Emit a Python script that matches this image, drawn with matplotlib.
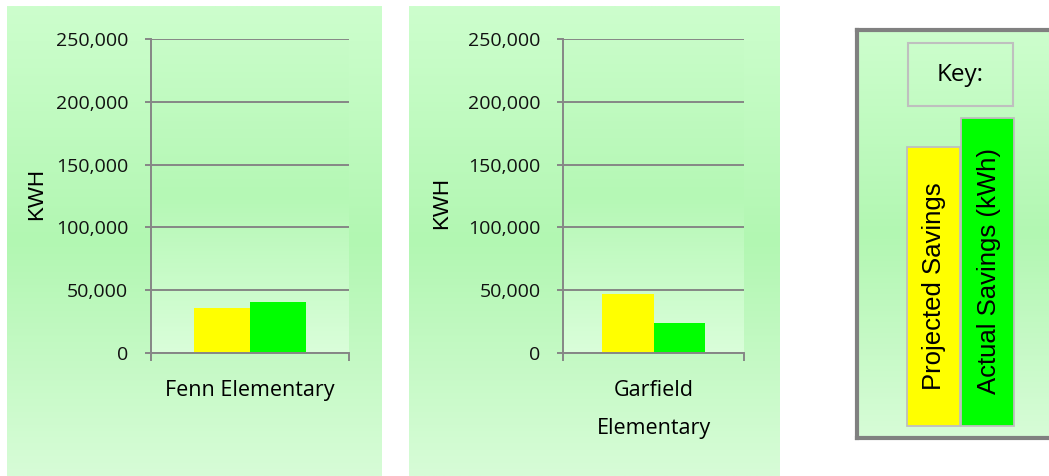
import numpy as np
import matplotlib.pyplot as plt
from matplotlib.colors import LinearSegmentedColormap
from matplotlib.patches import Rectangle

# data
schools = ["Fenn Elementary", "Garfield\nElementary"]
projected = [36000, 47000]
actual = [40700, 24000]
yticks = [0, 50000, 100000, 150000, 200000, 250000]
series = ["Projected Savings\n(kWh)", "Actual Savings (kWh)"]
colors = ["#FFFF00", "#00FF00"]

W, H = 1049, 476
fig = plt.figure(figsize=(W / 100, H / 100), dpi=100)
fig.patch.set_facecolor("white")


def px(x0, y0, x1, y1):
    # pixel box (top-left origin) -> figure fraction rect
    return [x0 / W, 1 - y1 / H, (x1 - x0) / W, (y1 - y0) / H]


grad = np.linspace(0, 1, 256).reshape(-1, 1)
bg_cmap = LinearSegmentedColormap.from_list("bg", ["#D7FCD7", "#B2F7B2", "#CDFECD"])
pa_cmap = LinearSegmentedColormap.from_list("pa", ["#DAFEDA", "#B5F8B5", "#C8FCC8"])

grey = "#868686"
calib = ["Open Sans", "DejaVu Sans"]
arial = ["Liberation Sans", "DejaVu Sans"]

panels = [(7, 6, 382, 476), (409, 6, 780, 476)]
plots = [(151, 38.7, 349, 353.3), (563.3, 38.7, 744, 353.3)]
kwh_pos = [(37, 194), (442, 203)]
width = 0.285

for i in range(2):
    # chart area backdrop
    b = fig.add_axes(px(*panels[i]), zorder=0)
    b.imshow(grad, cmap=bg_cmap, aspect="auto", origin="lower", extent=(0, 1, 0, 1))
    b.set_axis_off()

    ax = fig.add_axes(px(*plots[i]), zorder=1)
    ax.patch.set_alpha(0)
    ax.imshow(grad, cmap=pa_cmap, aspect="auto", origin="lower",
              extent=(-0.5, 0.5, 0, 250000), zorder=0)
    ax.bar(-width / 2, projected[i], width, color=colors[0], zorder=2)
    ax.bar(width / 2, actual[i], width, color=colors[1], zorder=2)
    ax.set_xlim(-0.5, 0.5)
    ax.set_ylim(0, 250000)

    ax.set_yticks(yticks, [f"{v:,}" for v in yticks], family=calib, fontsize=14)
    ax.yaxis.grid(True, color=grey, linewidth=1.4)
    ax.set_axisbelow(True)
    ax.tick_params(axis="y", direction="out", length=4.5, width=1.4, color=grey,
                   pad=12, labelcolor="#111111")

    ax.set_xticks([0], [schools[i]], family=calib, fontsize=15.5, linespacing=2.1)
    ax.set_xticks([-0.5, 0.5], minor=True)
    ax.tick_params(axis="x", which="major", length=0, pad=19)
    ax.tick_params(axis="x", which="minor", direction="out", length=5.5,
                   width=1.4, color=grey)

    for s in ["top", "right"]:
        ax.spines[s].set_visible(False)
    for s in ["left", "bottom"]:
        ax.spines[s].set_color(grey)
        ax.spines[s].set_linewidth(1.4)

    x0, y0, x1, y1 = plots[i]
    kx, ky = kwh_pos[i]
    ax.text((kx - x0) / (x1 - x0), 1 - (ky - y0) / (y1 - y0), "KWH", rotation=90,
            ha="center", va="center", transform=ax.transAxes,
            family=arial, fontsize=16)

# key panel, drawn in pixel units
kax = fig.add_axes(px(857, 30, 1075, 438), zorder=1)
kax.imshow(grad, cmap=bg_cmap, aspect="auto", origin="lower",
           extent=(857, 1075, 438, 30), zorder=0)
kax.set_xlim(857, 1075)
kax.set_ylim(438, 30)
kax.set_xticks([])
kax.set_yticks([])
for s in kax.spines.values():
    s.set_color("#808080")
    s.set_linewidth(3)

kax.add_patch(Rectangle((908, 43), 105, 63, fill=False, ec="#BFBFBF", lw=1.5, zorder=2))
kax.text(960.5, 75, "Key:", ha="center", va="center", family=calib, fontsize=17.5, zorder=3)

kax.add_patch(Rectangle((907, 147), 53, 279, fc=colors[0], ec="#BFBFBF", lw=1.3, zorder=2))
kax.text(922.5, 286, series[0], rotation=90, ha="left", va="center",
         multialignment="center", linespacing=1.75, family=arial, fontsize=18.5, zorder=3)
kax.add_patch(Rectangle((961, 118), 53, 308, fc=colors[1], ec="#BFBFBF", lw=1.3, zorder=4))
kax.text(977, 271, series[1], rotation=90, ha="left", va="center",
         family=arial, fontsize=18.5, zorder=5)

fig.savefig("out.png", dpi=100)
